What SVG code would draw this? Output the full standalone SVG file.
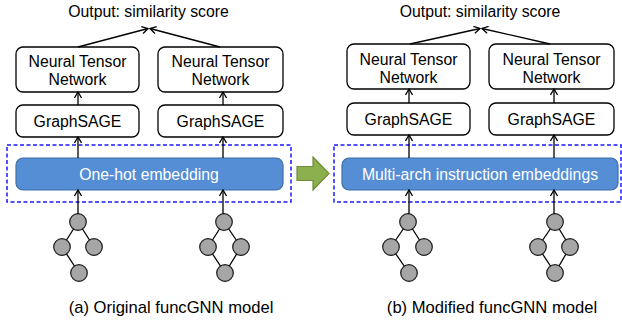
<svg xmlns="http://www.w3.org/2000/svg" width="622" height="321" viewBox="0 0 622 321">
  <defs>
    <marker id="arr" viewBox="0 0 8 8" refX="7" refY="4" markerWidth="8" markerHeight="8" markerUnits="userSpaceOnUse" orient="auto">
      <path d="M1,0.5 L7,4 L1,7.5" fill="none" stroke="#000" stroke-width="1.3"/>
    </marker>
    <style>
      text { font-family: "Liberation Sans", Arial, sans-serif; font-size: 15.8px; fill: #000; text-anchor: middle; }
      .box { fill: #fff; stroke: #000; stroke-width: 1.3; }
      .emb { fill: #558ed5; stroke: #3f6ea8; stroke-width: 1.2; }
      .embtxt { fill: #fff; }
      .dash { fill: none; stroke: #1a1aff; stroke-width: 1.5; stroke-dasharray: 4 2.5; }
      .cap { font-size: 16.6px; }
      .conn line { stroke: #000; stroke-width: 1.3; marker-end: url(#arr); }
      .g line { stroke: #000; stroke-width: 1.3; }
      .g circle { fill: #a6a6a6; stroke: #1a1a1a; stroke-width: 1.2; }
    </style>
  </defs>

  <!-- panel (a) -->
  <rect class="dash" x="7" y="145" width="284" height="57"/>
  <g id="out-a"><text x="148.5" y="17">Output: similarity score</text></g>
  <g id="ntn-a1"><rect class="box" x="16" y="47" width="123" height="45" rx="7"/><text x="77.5" y="67">Neural Tensor</text><text x="77.5" y="85">Network</text></g>
  <g id="ntn-a2"><rect class="box" x="158" y="47" width="125" height="45" rx="7"/><text x="220.5" y="67">Neural Tensor</text><text x="220.5" y="85">Network</text></g>
  <g id="sage-a1"><rect class="box" x="16" y="105" width="123" height="32" rx="7"/><text x="77.5" y="127">GraphSAGE</text></g>
  <g id="sage-a2"><rect class="box" x="158" y="105" width="125" height="32" rx="7"/><text x="220.5" y="127">GraphSAGE</text></g>
  <g id="emb-a"><rect class="emb" x="16" y="158" width="267" height="32" rx="7"/><text class="embtxt" x="149" y="180">One-hot embedding</text></g>
  <g id="graph-a1" class="g">
    <line x1="78" y1="222" x2="62" y2="247"/><line x1="78" y1="222" x2="94" y2="247"/><line x1="62" y1="247" x2="79" y2="273"/>
    <circle cx="78" cy="222" r="8.3"/><circle cx="62" cy="247" r="8.3"/><circle cx="94" cy="247" r="8.3"/><circle cx="79" cy="273" r="8.3"/>
  </g>
  <g id="graph-a2" class="g">
    <line x1="224" y1="222" x2="208" y2="247"/><line x1="224" y1="222" x2="241" y2="247"/><line x1="208" y1="247" x2="225" y2="273"/><line x1="241" y1="247" x2="225" y2="273"/>
    <circle cx="224" cy="222" r="8.3"/><circle cx="208" cy="247" r="8.3"/><circle cx="241" cy="247" r="8.3"/><circle cx="225" cy="273" r="8.3"/>
  </g>
  <g id="cap-a"><text class="cap" x="171" y="313">(a) Original funcGNN model</text></g>

  <!-- transition arrow -->
  <g id="shift"><path d="M297,166.5 H313 V157 L329,173.5 L313,190 V180.5 H297 Z" fill="#8cb04e" stroke="#6f8b3b" stroke-width="1.2"/></g>

  <!-- panel (b) -->
  <rect class="dash" x="334" y="145" width="287" height="57"/>
  <g id="out-b"><text x="480" y="17">Output: similarity score</text></g>
  <g id="ntn-b1"><rect class="box" x="347" y="44" width="123" height="45" rx="7"/><text x="408.5" y="65">Neural Tensor</text><text x="408.5" y="83">Network</text></g>
  <g id="ntn-b2"><rect class="box" x="489" y="44" width="125" height="45" rx="7"/><text x="551.5" y="65">Neural Tensor</text><text x="551.5" y="83">Network</text></g>
  <g id="sage-b1"><rect class="box" x="347" y="103" width="123" height="32" rx="7"/><text x="408.5" y="125">GraphSAGE</text></g>
  <g id="sage-b2"><rect class="box" x="489" y="103" width="125" height="32" rx="7"/><text x="551.5" y="125">GraphSAGE</text></g>
  <g id="emb-b"><rect class="emb" x="342" y="158" width="276" height="32" rx="7"/><text class="embtxt" x="480" y="180">Multi-arch instruction embeddings</text></g>
  <g id="graph-b1" class="g">
    <line x1="408" y1="222" x2="391" y2="247"/><line x1="408" y1="222" x2="424" y2="247"/><line x1="391" y1="247" x2="409" y2="273"/>
    <circle cx="408" cy="222" r="8.3"/><circle cx="391" cy="247" r="8.3"/><circle cx="424" cy="247" r="8.3"/><circle cx="409" cy="273" r="8.3"/>
  </g>
  <g id="graph-b2" class="g">
    <line x1="555" y1="222" x2="538" y2="247"/><line x1="555" y1="222" x2="570" y2="247"/><line x1="538" y1="247" x2="555" y2="273"/><line x1="570" y1="247" x2="555" y2="273"/>
    <circle cx="555" cy="222" r="8.3"/><circle cx="538" cy="247" r="8.3"/><circle cx="570" cy="247" r="8.3"/><circle cx="555" cy="273" r="8.3"/>
  </g>
  <g id="cap-b"><text class="cap" x="492" y="313">(b) Modified funcGNN model</text></g>

  <!-- connectors -->
  <g id="connectors" class="conn">
    <line x1="78" y1="47" x2="148" y2="28.5"/>
    <line x1="220" y1="47" x2="150" y2="28.5"/>
    <line x1="78" y1="105" x2="78" y2="92"/>
    <line x1="223" y1="105" x2="223" y2="92"/>
    <line x1="78" y1="158" x2="78" y2="137"/>
    <line x1="223" y1="158" x2="223" y2="137"/>
    <line x1="78" y1="214" x2="78" y2="190"/>
    <line x1="223" y1="214" x2="223" y2="190"/>

    <line x1="410" y1="44" x2="480" y2="28.5"/>
    <line x1="550" y1="44" x2="482" y2="28.5"/>
    <line x1="409" y1="103" x2="409" y2="89"/>
    <line x1="554" y1="103" x2="554" y2="89"/>
    <line x1="409" y1="158" x2="409" y2="135"/>
    <line x1="554" y1="158" x2="554" y2="135"/>
    <line x1="409" y1="214" x2="409" y2="190"/>
    <line x1="554" y1="214" x2="554" y2="190"/>
  </g>
</svg>
